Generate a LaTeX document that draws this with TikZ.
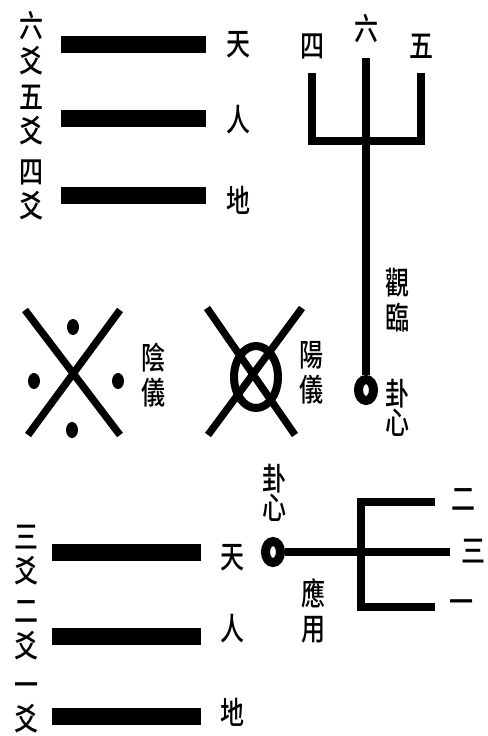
\documentclass[tikz,border=0pt]{standalone}
\usepackage{fontspec}
\setmainfont{Noto Sans CJK TC}[UprightFont={* Medium}]
\usetikzlibrary{
		positioning,
		shapes.geometric
	}
\tikzset{
		hanzi/.style={font=\fontsize{18}{20}\selectfont, yscale=1.3, inner sep=0pt, align=center},
		yao/.style={line width=12.75pt},
		prong/.style={line width=6pt, line join=miter},
		cross/.style={line width=5.5pt},
		hub/.style={draw, ellipse, line width=6.75pt, inner sep=0pt, minimum width=11.25pt, minimum height=15.75pt}
	}

\begin{document}
\begin{tikzpicture}[x=0.75pt, y=-0.75pt] % (1 unit = 1 pixel of the reference, y runs downwards)
		\useasboundingbox (0,0) rectangle (487,736);
		% upper trigram
		\foreach \y/\ly/\ry/\place/\name [count=\i] in {44/43/45/天/{六\\爻}, 118/115/120/人/{五\\爻}, 195/190/200/地/{四\\爻}}{
			\draw[yao] (61,\y) -- (206,\y);
			\node[hanzi] (upYao\i) at (32,\ly) {\name};
			\node[hanzi] (upPlace\i) at (238,\ry) {\place};
		}
		% lower trigram
		\foreach \y/\ly/\ry/\place/\name [count=\i] in {552/555/558/天/{三\\爻}, 636/630/629/人/{二\\爻}, 716/708/712/地/{一\\爻}}{
			\draw[yao] (52,\y) -- (201,\y);
			\node[hanzi] (lowYao\i) at (26,\ly) {\name};
			\node[hanzi] (lowPlace\i) at (232,\ry) {\place};
		}

		% the upright fork: 觀臨
		\node[hanzi] (four) at (312,46) {四};
		\node[hanzi] (six) at (366,29) {六};
		\node[hanzi] (five) at (421,46) {五};
		\coordinate (tipFour) at (312,73);
		\coordinate (tipSix) at (366,58);
		\coordinate (tipFive) at (421,73);
		\node[hub] (hubUp) at (366,390) {};
		\draw[prong] (tipSix) -- (hubUp);
		\draw[prong] (tipFour) -- ++(0,68) -| (tipFive);
		\node[hanzi] (guanlin) at (397,300) {觀\\臨};
		\node[hanzi, font=\fontsize{18}{17}\selectfont] (heartUp) at (397,408) {卦\\心};

		% the two 儀
		\draw[cross] (25,310) -- (120,435) (120,310) -- (28,435);
		\foreach \x/\y in {73/327, 34/381, 118/381, 72/430}
			\fill (\x,\y) ellipse [x radius=6, y radius=8];
		\node[hanzi] (yinyi) at (153,375) {陰\\儀};
		\draw[cross] (207,308) -- (295,435) (302,308) -- (208,435);
		\draw[line width=6pt] (256,377) ellipse [x radius=22, y radius=31];
		\node[hanzi] (yangyi) at (311,373) {陽\\儀};

		% the lying fork: 應用
		\node[hub] (hubLow) at (273,552) {};
		\node[hanzi, font=\fontsize{18}{17}\selectfont] (heartLow) at (274,493) {卦\\心};
		\coordinate (tipTwo) at (435,502);
		\coordinate (tipThree) at (450,552);
		\coordinate (tipOne) at (435,607);
		\draw[prong] (hubLow) -- (tipThree);
		\draw[prong] (tipTwo) -- ++(-74,0) |- (tipOne);
		\node[hanzi] (two) at (463,500) {二};
		\node[hanzi] (three) at (473,551) {三};
		\node[hanzi] (one) at (461,607) {一};
		\node[hanzi] (yingyong) at (313,611) {應\\用};
	\end{tikzpicture}
\end{document}
